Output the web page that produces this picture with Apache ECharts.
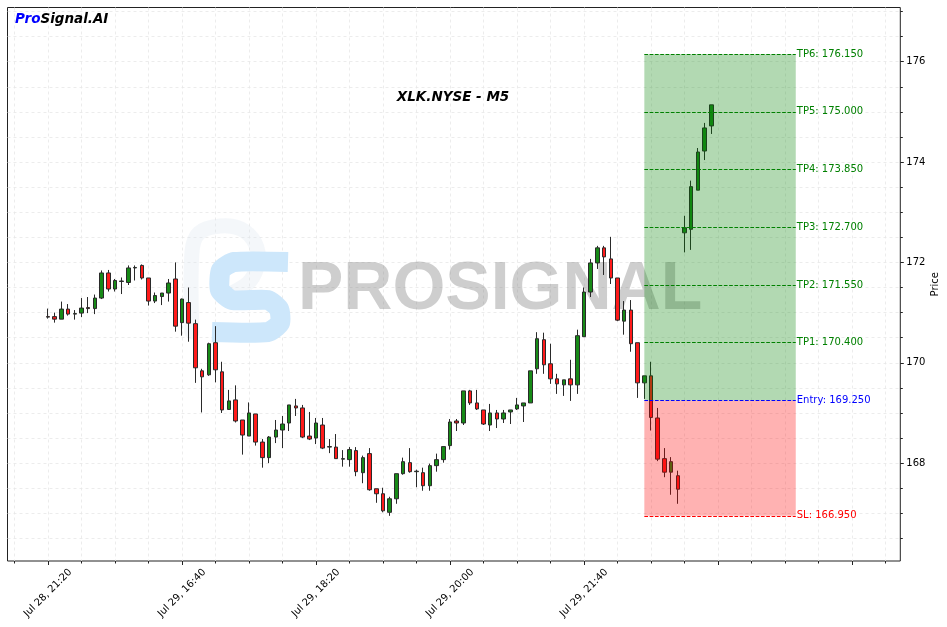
<!DOCTYPE html>
<html>
<head>
<meta charset="utf-8">
<script src="https://cdn.jsdelivr.net/npm/echarts@6/dist/echarts.min.js"></script>
<style>
  html, body { margin: 0; padding: 0; background: #fff; }
  #chart { width: 947px; height: 627px; }
</style>
</head>
<body>
<div id="chart"></div>
<script>
// M5 candles, index 0 = Jul 28 21:20
const opens = [
  170.92, 170.92, 170.87, 171.07, 170.97, 170.99, 171.10, 171.08, 171.29, 171.79,
  171.47, 171.62, 171.60, 171.89, 171.94, 171.69, 171.23, 171.32, 171.39, 171.67,
  170.80, 171.20, 170.78, 169.84, 169.76, 170.40, 169.82, 169.07, 169.26, 168.86,
  168.54, 168.98, 168.42, 168.11, 168.52, 168.66, 168.80, 169.14, 169.10, 168.54,
  168.50, 168.76, 168.32, 168.32, 168.08, 168.07, 168.25, 167.81, 168.19, 167.49,
  167.39, 167.02, 167.29, 167.79, 168.01, 167.83, 167.81, 167.55, 167.95, 168.07,
  168.35, 168.84, 168.80, 169.44, 169.20, 169.06, 168.76, 169.00, 168.88, 169.02,
  169.08, 169.14, 169.20, 169.88, 170.46, 169.98, 169.68, 169.56, 169.68, 169.56,
  170.52, 171.41, 171.99, 172.29, 172.07, 171.69, 170.83, 171.05, 170.40, 169.60,
  169.74, 168.90, 168.09, 167.82, 167.75, 172.59, 172.66, 173.44, 174.22, 174.72
];
const closes = [
  170.91, 170.87, 171.07, 170.97, 170.98, 171.09, 171.08, 171.29, 171.79, 171.47,
  171.64, 171.63, 171.89, 171.90, 171.69, 171.23, 171.34, 171.39, 171.59, 170.73,
  171.27, 170.79, 169.90, 169.72, 170.38, 169.86, 169.06, 169.24, 168.84, 168.56,
  169.00, 168.42, 168.11, 168.52, 168.66, 168.78, 169.16, 169.10, 168.52, 168.48,
  168.80, 168.30, 168.33, 168.09, 168.09, 168.27, 167.83, 168.11, 167.47, 167.39,
  167.05, 167.29, 167.79, 168.03, 167.83, 167.84, 167.55, 167.95, 168.07, 168.33,
  168.82, 168.80, 169.44, 169.20, 169.08, 168.78, 169.00, 168.88, 169.00, 169.06,
  169.16, 169.20, 169.84, 170.48, 169.96, 169.68, 169.58, 169.66, 169.56, 170.54,
  171.41, 171.99, 172.29, 172.11, 171.69, 170.85, 171.05, 170.38, 169.60, 169.74,
  168.91, 168.08, 167.82, 168.03, 167.48, 172.69, 173.51, 174.20, 174.68, 175.14
];
const lows = [
  170.88, 170.80, 170.87, 170.94, 170.86, 170.91, 170.99, 170.97, 171.27, 171.42,
  171.42, 171.37, 171.55, 171.64, 171.66, 171.14, 171.19, 171.15, 171.22, 170.62,
  170.54, 170.42, 169.60, 169.01, 169.74, 169.61, 169.00, 169.06, 168.81, 168.17,
  168.54, 168.35, 167.91, 168.00, 168.40, 168.30, 168.64, 168.94, 168.50, 168.46,
  168.38, 168.28, 168.20, 168.09, 167.93, 167.93, 167.74, 167.60, 167.45, 167.21,
  167.02, 166.95, 167.19, 167.77, 167.81, 167.52, 167.45, 167.45, 167.83, 168.01,
  168.27, 168.64, 168.76, 169.16, 169.06, 168.76, 168.64, 168.70, 168.80, 168.78,
  169.06, 168.82, 169.20, 169.78, 169.78, 169.58, 169.38, 169.34, 169.24, 169.38,
  170.52, 171.31, 171.87, 171.75, 171.57, 170.83, 170.56, 170.22, 169.30, 169.28,
  168.65, 168.04, 167.72, 167.37, 167.19, 172.20, 172.25, 173.44, 174.04, 174.56
];
const highs = [
  171.08, 171.00, 171.22, 171.17, 171.05, 171.29, 171.31, 171.36, 171.84, 171.85,
  171.67, 171.70, 171.94, 171.94, 171.96, 171.69, 171.40, 171.39, 171.67, 172.00,
  171.28, 171.50, 170.86, 169.88, 170.40, 170.73, 170.02, 169.46, 169.55, 168.86,
  169.21, 168.98, 168.48, 168.54, 168.86, 168.94, 169.16, 169.28, 169.16, 169.02,
  168.90, 168.90, 168.48, 168.58, 168.26, 168.32, 168.32, 168.15, 168.30, 167.49,
  167.51, 167.33, 167.79, 168.11, 168.30, 167.87, 167.91, 167.99, 168.19, 168.33,
  168.88, 168.88, 169.44, 169.46, 169.46, 169.06, 169.18, 169.06, 169.06, 169.06,
  169.30, 169.20, 169.84, 170.61, 170.60, 170.38, 169.78, 169.66, 170.06, 170.66,
  171.50, 172.07, 172.33, 172.33, 172.51, 171.69, 171.23, 171.25, 170.40, 169.74,
  170.02, 169.10, 168.30, 168.12, 167.85, 172.93, 173.63, 174.28, 174.78, 175.14
];

const xMajorTicks = [0, 20, 40, 60, 80, 100, 120];
const xTickLabels = ['Jul 28, 21:20', 'Jul 29, 16:40', 'Jul 29, 18:20', 'Jul 29, 20:00', 'Jul 29, 21:40', '', ''];
const xMinorTicks = [-5, 5, 10, 15, 25, 30, 35, 45, 50, 55, 65, 70, 75, 85, 90, 95, 105, 110, 115, 125];
const yMajorTicks = [168, 170, 172, 174, 176];
const yMinorTicks = [166.5, 167, 167.5, 168.5, 169, 169.5, 170.5, 171, 171.5, 172.5, 173, 173.5, 174.5, 175, 175.5, 176.5, 177];

const levelNames = ['TP6', 'TP5', 'TP4', 'TP3', 'TP2', 'TP1', 'Entry', 'SL'];
const levelValues = [176.15, 175.0, 173.85, 172.7, 171.55, 170.4, 169.25, 166.95];
const levelColors = ['#008000', '#008000', '#008000', '#008000', '#008000', '#008000', '#0000ff', '#ff0000'];
const zoneStart = 89;
const zoneEnd = 111.6;

const candles = opens.map((o, i) => [i, o, closes[i], lows[i], highs[i]]);

const chart = echarts.init(document.getElementById('chart'));

const gridLine = { show: true, lineStyle: { color: '#e8e8e8', type: [3, 3], width: 0.8 } };
const tickLine = { color: '#222', width: 1 };
const font = 'DejaVu Sans';
const noLine = { show: false, onZero: false };

const option = {
  animation: false,
  backgroundColor: '#fff',
  grid: {
    left: 7.5, right: 46.7, top: 7.5, bottom: 66,
    outerBoundsMode: 'none', containLabel: false,
    show: true, borderColor: '#222', borderWidth: 1, backgroundColor: 'transparent'
  },
  xAxis: [
    {
      type: 'value', position: 'bottom', min: -6.04, max: 127.2,
      axisLine: noLine,
      axisTick: { show: true, customValues: xMajorTicks, length: 4, lineStyle: tickLine },
      axisLabel: {
        customValues: xMajorTicks.slice(0, 5),
        formatter: v => xTickLabels[xMajorTicks.indexOf(v)],
        rotate: 45, align: 'center', verticalAlign: 'middle', margin: 32,
        fontSize: 10, fontFamily: font, color: '#000'
      },
      splitLine: gridLine
    },
    {
      type: 'value', position: 'bottom', min: -6.04, max: 127.2,
      axisLine: noLine,
      axisTick: { show: true, customValues: xMinorTicks, length: 2.5, lineStyle: tickLine },
      axisLabel: { show: false },
      splitLine: gridLine
    }
  ],
  yAxis: [
    {
      type: 'value', position: 'right', min: 166.05, max: 177.08,
      axisLine: noLine,
      axisTick: { show: true, customValues: yMajorTicks, length: 3.5, lineStyle: tickLine },
      axisLabel: {
        customValues: yMajorTicks, margin: 6,
        fontSize: 10, fontFamily: font, color: '#000'
      },
      splitLine: gridLine,
      name: 'Price', nameLocation: 'middle', nameRotate: 90, nameGap: 30, nameMoveOverlap: false,
      nameTextStyle: { fontSize: 10, fontFamily: font, color: '#000' }
    },
    {
      type: 'value', position: 'right', min: 166.05, max: 177.08,
      axisLine: noLine,
      axisTick: { show: true, customValues: yMinorTicks, length: 2.5, lineStyle: tickLine },
      axisLabel: { show: false },
      splitLine: gridLine
    }
  ],
  graphic: {
    elements: [
      {
        // faint "P" outline of the watermark logo
        type: 'polyline', z: 1, silent: true,
        shape: {
          points: [[192, 332], [192, 252], [199, 233], [220, 226], [241, 229], [255, 243], [258, 262], [250, 281], [234, 292]],
          smooth: 0.35
        },
        style: { fill: 'none', stroke: 'rgba(220,228,238,0.3)', lineWidth: 15, lineCap: 'round', lineJoin: 'round' }
      },
      {
        // blue "S" of the watermark logo
        type: 'polyline', z: 1, silent: true,
        shape: {
          points: [[288, 262], [234, 262], [221, 270], [220, 290], [232, 300], [268, 300], [279, 309], [280, 323], [268, 332], [212, 332]],
          smooth: 0.2
        },
        style: { fill: 'none', stroke: '#cde7fb', lineWidth: 20, lineJoin: 'round' }
      },
      {
        type: 'text', z: 1, silent: true, x: 298, y: 290,
        style: {
          text: 'PROSIGNAL', fill: 'rgba(120,120,120,0.36)',
          font: 'bold 68px "Liberation Sans"', textAlign: 'left', textVerticalAlign: 'middle'
        }
      },
      {
        type: 'text', z: 10, x: 453, y: 97,
        style: {
          text: 'XLK.NYSE - M5', fill: '#000',
          font: 'italic bold 13.5px "DejaVu Sans"', textAlign: 'center', textVerticalAlign: 'middle'
        }
      },
      {
        type: 'text', z: 10, x: 15, y: 19,
        style: {
          text: '{a|Pro}{b|Signal.AI}', textVerticalAlign: 'middle',
          rich: {
            a: { fill: '#0000ff', font: 'italic bold 13.5px "DejaVu Sans"' },
            b: { fill: '#000', font: 'italic bold 13.5px "DejaVu Sans"' }
          }
        }
      }
    ]
  },
  series: [
    {
      type: 'candlestick',
      xAxisIndex: 0, yAxisIndex: 0,
      z: 2,
      barWidth: 4,
      data: candles,
      itemStyle: {
        color: '#178a17', color0: '#ff1a1a',
        borderColor: '#2a2a2a', borderColor0: '#2a2a2a', borderColorDoji: '#2a2a2a',
        borderWidth: 1
      }
    },
    {
      type: 'line',
      xAxisIndex: 0, yAxisIndex: 0,
      z: 5,
      data: [],
      markArea: {
        silent: true, z: 5,
        data: [
          [{ coord: [zoneStart, levelValues[0]], itemStyle: { color: 'rgba(0,128,0,0.3)' } }, { coord: [zoneEnd, levelValues[6]] }],
          [{ coord: [zoneStart, levelValues[6]], itemStyle: { color: 'rgba(255,0,0,0.3)' } }, { coord: [zoneEnd, levelValues[7]] }]
        ]
      },
      markLine: {
        silent: true, z: 6,
        symbol: 'none',
        data: levelValues.map((v, i) => [
          {
            coord: [zoneStart, v],
            lineStyle: { color: levelColors[i], type: [3.7, 1.6], width: 1 },
            label: {
              show: true, position: 'end', distance: 1,
              formatter: levelNames[i] + ': ' + v.toFixed(3),
              color: levelColors[i], fontSize: 10, fontFamily: font
            }
          },
          { coord: [zoneEnd, v] }
        ])
      }
    }
  ]
};

chart.setOption(option);
window.addEventListener('resize', () => chart.resize());
</script>
</body>
</html>
